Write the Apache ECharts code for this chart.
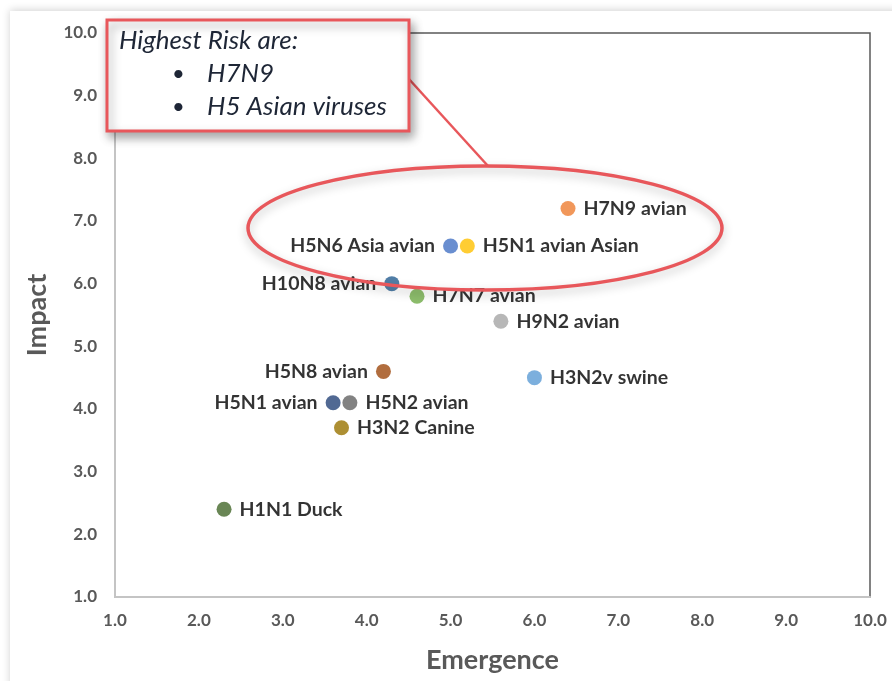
<!DOCTYPE html>
<html>
<head>
<meta charset="utf-8">
<script src="https://cdn.jsdelivr.net/npm/echarts@6/dist/echarts.min.js"></script>
<style>
  html, body { margin: 0; padding: 0; background: #ffffff; }
  #chart { width: 892px; height: 681px; }
</style>
</head>
<body>
<div id="chart"></div>
<script>
// Influenza risk assessment: emergence vs impact
const virusNames = [
  'H7N9 avian', 'H5N6 Asia avian', 'H5N1 avian Asian', 'H10N8 avian',
  'H7N7 avian', 'H9N2 avian', 'H3N2v swine', 'H5N8 avian',
  'H5N1 avian', 'H5N2 avian', 'H3N2 Canine', 'H1N1 Duck'
];
const emergence = [6.4, 5.0, 5.2, 4.3, 4.6, 5.6, 6.0, 4.2, 3.6, 3.8, 3.7, 2.3];
const impact    = [7.2, 6.6, 6.6, 6.0, 5.8, 5.4, 4.5, 4.6, 4.1, 4.1, 3.7, 2.4];
const pointColors = [
  '#ED7D31', '#4472C4', '#FFC000', '#255E91',
  '#70AD47', '#A5A5A5', '#5B9BD5', '#9E480E',
  '#264478', '#636363', '#997300', '#43682B'
];
const labelSide = [
  'right', 'left', 'right', 'left',
  'right', 'right', 'right', 'left',
  'left', 'right', 'right', 'right'
];
const axisTicks = [1, 2, 3, 4, 5, 6, 7, 8, 9, 10];
const calloutLines = ['Highest Risk are:', 'H7N9', 'H5 Asian viruses'];

const chart = echarts.init(document.getElementById('chart'), null, { renderer: 'canvas' });

const points = virusNames.map((name, i) => ({
  name: name,
  value: [emergence[i], impact[i]],
  itemStyle: { color: pointColors[i] },
  label: { position: labelSide[i] }
}));

const axisLabelStyle = {
  color: '#595959',
  fontFamily: 'Lato',
  fontWeight: 'bold',
  fontSize: 17,
  formatter: v => v.toFixed(1)
};

const option = {
  backgroundColor: '#ffffff',
  animation: false,
  grid: {
    left: 115, right: 22, top: 33, bottom: 84,
    show: true, borderColor: '#5a5a5a', borderWidth: 1.5, backgroundColor: 'transparent'
  },
  xAxis: {
    type: 'value', min: axisTicks[0], max: axisTicks[axisTicks.length - 1], interval: 1,
    name: 'Emergence', nameLocation: 'middle', nameGap: 50,
    nameTextStyle: { color: '#595959', fontFamily: 'Lato', fontWeight: 'bold', fontSize: 27 },
    axisLine: { show: true, lineStyle: { color: '#c4c4c4', width: 2 } },
    axisTick: { show: false },
    splitLine: { show: false },
    axisLabel: Object.assign({ margin: 15 }, axisLabelStyle)
  },
  yAxis: {
    type: 'value', min: axisTicks[0], max: axisTicks[axisTicks.length - 1], interval: 1,
    name: 'Impact', nameLocation: 'middle', nameGap: 64, nameRotate: 90,
    nameTextStyle: { color: '#595959', fontFamily: 'Lato', fontWeight: 'bold', fontSize: 27 },
    axisLine: { show: true, lineStyle: { color: '#c4c4c4', width: 2 } },
    axisTick: { show: false },
    splitLine: { show: false },
    axisLabel: Object.assign({ margin: 18 }, axisLabelStyle)
  },
  series: [{
    type: 'scatter',
    symbolSize: 15,
    data: points,
    z: 5,
    label: {
      show: true,
      formatter: p => p.name,
      distance: 8,
      color: '#000000',
      fontFamily: 'Lato',
      fontWeight: 'bold',
      fontSize: 19.5
    }
  }],
  graphic: [
    // panel edge shading
    {
      type: 'rect', z: -10, silent: true,
      shape: { x: 10, y: 11, width: 900, height: 700 },
      style: { fill: '#ffffff', shadowBlur: 8, shadowColor: 'rgba(0,0,0,0.18)', shadowOffsetY: -1 }
    },
    // ellipse around the highest-risk group
    {
      type: 'ellipse', z: 20, silent: true,
      shape: { cx: 485, cy: 228, rx: 237, ry: 62 },
      style: { fill: 'none', stroke: '#E8575B', lineWidth: 3.5,
               shadowBlur: 10, shadowColor: 'rgba(0,0,0,0.25)', shadowOffsetY: 4 }
    },
    // connector from callout to ellipse
    {
      type: 'line', z: 20, silent: true,
      shape: { x1: 408, y1: 78, x2: 488, y2: 166 },
      style: { stroke: '#E8575B', lineWidth: 2.5 }
    },
    // callout box
    {
      type: 'rect', z: 30, silent: true,
      shape: { x: 107, y: 20, width: 302, height: 111 },
      style: { fill: '#ffffff', stroke: '#E8575B', lineWidth: 3,
               shadowBlur: 10, shadowColor: 'rgba(0,0,0,0.35)', shadowOffsetX: 3, shadowOffsetY: 5 }
    },
    {
      type: 'text', z: 31, silent: true, left: 119, top: 28,
      style: { text: calloutLines[0], fill: '#1e2636', fontFamily: 'Lato', fontStyle: 'italic', fontSize: 26 }
    },
    {
      type: 'text', z: 31, silent: true, left: 172, top: 63,
      style: { text: '•', fill: '#1e2636', fontFamily: 'Lato', fontSize: 22 }
    },
    {
      type: 'text', z: 31, silent: true, left: 207, top: 61,
      style: { text: calloutLines[1], fill: '#1e2636', fontFamily: 'Lato', fontStyle: 'italic', fontSize: 26 }
    },
    {
      type: 'text', z: 31, silent: true, left: 172, top: 96,
      style: { text: '•', fill: '#1e2636', fontFamily: 'Lato', fontSize: 22 }
    },
    {
      type: 'text', z: 31, silent: true, left: 207, top: 94,
      style: { text: calloutLines[2], fill: '#1e2636', fontFamily: 'Lato', fontStyle: 'italic', fontSize: 26 }
    }
  ]
};

chart.setOption(option);
</script>
</body>
</html>
